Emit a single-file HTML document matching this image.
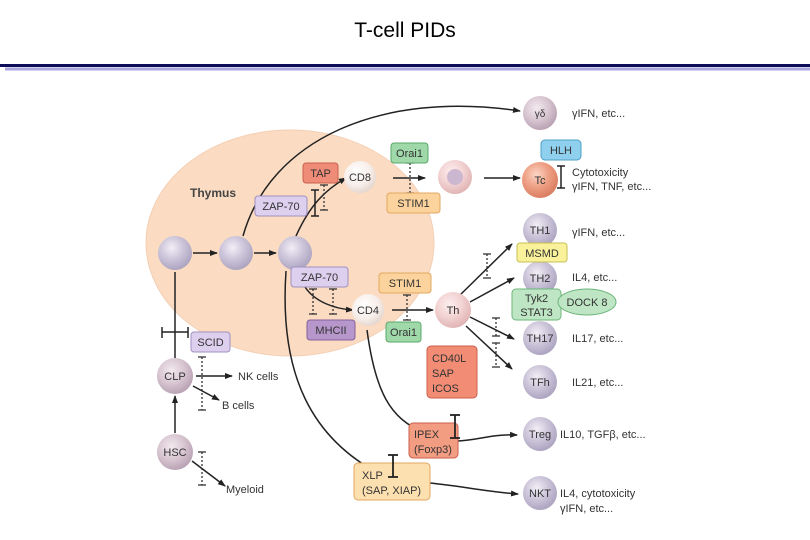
<!DOCTYPE html>
<html><head><meta charset="utf-8"><style>
html,body{margin:0;padding:0;background:#fff;}
svg{display:block;}
text{font-family:"Liberation Sans",sans-serif;}
</style></head><body>
<svg width="810" height="540" viewBox="0 0 810 540" xmlns="http://www.w3.org/2000/svg">
<defs>
<marker id="a" markerWidth="8" markerHeight="8" refX="7" refY="4" orient="auto" markerUnits="userSpaceOnUse"><path d="M0,1 L8,4 L0,7 z" fill="#222"/></marker>
<radialGradient id="lav" cx="0.4" cy="0.35" r="0.7"><stop offset="0" stop-color="#f2eef6"/><stop offset="0.45" stop-color="#cfc8dc"/><stop offset="1" stop-color="#a9a0bd"/></radialGradient>
<radialGradient id="mauve" cx="0.4" cy="0.35" r="0.7"><stop offset="0" stop-color="#f3e9ee"/><stop offset="0.5" stop-color="#d9c7d2"/><stop offset="1" stop-color="#b59eb0"/></radialGradient>
<radialGradient id="pink" cx="0.4" cy="0.35" r="0.7"><stop offset="0" stop-color="#fdeeee"/><stop offset="0.5" stop-color="#f3d3d3"/><stop offset="1" stop-color="#deb0b0"/></radialGradient>
<radialGradient id="wht" cx="0.4" cy="0.35" r="0.7"><stop offset="0" stop-color="#ffffff"/><stop offset="0.6" stop-color="#f7eeea"/><stop offset="1" stop-color="#e2d3cc"/></radialGradient>
<radialGradient id="org" cx="0.4" cy="0.35" r="0.7"><stop offset="0" stop-color="#fbd6c6"/><stop offset="0.5" stop-color="#ee9f84"/><stop offset="1" stop-color="#d7785c"/></radialGradient>
</defs>
<text x="405" y="37" font-size="21" text-anchor="middle" fill="#000">T-cell PIDs</text>
<rect x="0" y="64" width="810" height="3" fill="#0c0c5a"/>
<rect x="5" y="67.5" width="805" height="3" fill="#a9a6dc"/>

<ellipse cx="290" cy="243" rx="144" ry="113" fill="#fbdcc2" stroke="#f3cfb4"/>
<text x="190" y="197" font-size="12" font-weight="bold" fill="#444">Thymus</text>

<g stroke="#222" stroke-width="1.5" fill="none">
<path d="M243,236 C270,140 380,90 520,111" marker-end="url(#a)"/>
<path d="M296,236 C310,205 325,190 346,178" marker-end="url(#a)"/>
<line x1="193" y1="253" x2="217" y2="253" marker-end="url(#a)"/>
<line x1="254" y1="253" x2="276" y2="253" marker-end="url(#a)"/>
<line x1="393" y1="178" x2="425" y2="178" marker-end="url(#a)"/>
<line x1="484" y1="178" x2="520" y2="178" marker-end="url(#a)"/>
<path d="M305,287 C315,302 335,309 353,310" marker-end="url(#a)"/>
<line x1="392" y1="310" x2="433" y2="310" marker-end="url(#a)"/>
<path d="M286,271 C280,360 300,450 415,489"/>
<path d="M367,330 C375,390 390,420 424,432"/>
<path d="M458,441 C480,440 490,434 517,435" marker-end="url(#a)"/>
<path d="M430,483 C460,486 490,492 518,494" marker-end="url(#a)"/>
<line x1="458" y1="297" x2="512" y2="244" marker-end="url(#a)"/>
<line x1="470" y1="302" x2="514" y2="278" marker-end="url(#a)"/>
<line x1="470" y1="317" x2="514" y2="339" marker-end="url(#a)"/>
<line x1="466" y1="326" x2="512" y2="369" marker-end="url(#a)"/>
<line x1="175" y1="433" x2="175" y2="396" marker-end="url(#a)"/>
<line x1="175" y1="358" x2="175" y2="272"/>
<line x1="162" y1="332" x2="188" y2="332"/>
<line x1="162" y1="327" x2="162" y2="338"/>
<line x1="188" y1="327" x2="188" y2="338"/>
<line x1="196" y1="376" x2="232" y2="376" marker-end="url(#a)"/>
<line x1="193" y1="386" x2="219" y2="400" marker-end="url(#a)"/>
<line x1="192" y1="461" x2="225" y2="486" marker-end="url(#a)"/>
<line x1="315" y1="190" x2="315" y2="216"/><line x1="311" y1="190" x2="319" y2="190"/><line x1="311" y1="216" x2="319" y2="216"/>
<line x1="561" y1="166" x2="561" y2="188"/><line x1="557" y1="166" x2="565" y2="166"/><line x1="557" y1="188" x2="565" y2="188"/>
</g>
<g stroke="#333" stroke-width="1.3" fill="none" stroke-dasharray="2,2">
<line x1="324" y1="185" x2="324" y2="210"/><line x1="410" y1="163" x2="410" y2="193"/>
<line x1="313" y1="289" x2="313" y2="314"/><line x1="333" y1="289" x2="333" y2="314"/>
<line x1="407" y1="295" x2="407" y2="320"/>
<line x1="487" y1="254" x2="487" y2="278"/>
<line x1="496" y1="318" x2="496" y2="336"/><line x1="496" y1="343" x2="496" y2="367"/>
<line x1="202" y1="357" x2="202" y2="410"/><line x1="202" y1="452" x2="202" y2="485"/>
</g>
<g stroke="#333" stroke-width="1.3">
<line x1="320" y1="185" x2="328" y2="185"/><line x1="320" y1="210" x2="328" y2="210"/>
<line x1="406" y1="163" x2="414" y2="163"/><line x1="406" y1="193" x2="414" y2="193"/>
<line x1="309" y1="289" x2="317" y2="289"/><line x1="309" y1="314" x2="317" y2="314"/>
<line x1="329" y1="289" x2="337" y2="289"/><line x1="329" y1="314" x2="337" y2="314"/>
<line x1="403" y1="295" x2="411" y2="295"/><line x1="403" y1="320" x2="411" y2="320"/>
<line x1="483" y1="254" x2="491" y2="254"/><line x1="483" y1="278" x2="491" y2="278"/>
<line x1="492" y1="318" x2="500" y2="318"/><line x1="492" y1="336" x2="500" y2="336"/>
<line x1="492" y1="343" x2="500" y2="343"/><line x1="492" y1="367" x2="500" y2="367"/>
<line x1="198" y1="357" x2="206" y2="357"/><line x1="198" y1="410" x2="206" y2="410"/>
<line x1="198" y1="452" x2="206" y2="452"/><line x1="198" y1="485" x2="206" y2="485"/>
</g>

<g>
<circle cx="175" cy="253" r="17" fill="url(#lav)"/>
<circle cx="236" cy="253" r="17" fill="url(#lav)"/>
<circle cx="295" cy="253" r="17" fill="url(#lav)"/>
<circle cx="360" cy="177" r="16" fill="url(#wht)"/>
<circle cx="455" cy="177" r="17" fill="url(#pink)"/><circle cx="455" cy="177" r="8" fill="#cbb7d0"/>
<circle cx="540" cy="113" r="17" fill="url(#mauve)"/>
<circle cx="540" cy="180" r="18" fill="url(#org)"/>
<circle cx="540" cy="230" r="17" fill="url(#lav)"/>
<circle cx="540" cy="278" r="17" fill="url(#lav)"/>
<circle cx="540" cy="338" r="17" fill="url(#lav)"/>
<circle cx="540" cy="382" r="17" fill="url(#lav)"/>
<circle cx="540" cy="434" r="17" fill="url(#lav)"/>
<circle cx="540" cy="493" r="17" fill="url(#lav)"/>
<circle cx="453" cy="310" r="18" fill="url(#pink)"/>
<circle cx="368" cy="310" r="16" fill="url(#wht)"/>
<circle cx="175" cy="376" r="18" fill="url(#mauve)"/>
<circle cx="175" cy="452" r="18" fill="url(#mauve)"/>
</g>
<g font-size="11" fill="#333" text-anchor="middle">
<text x="360" y="181">CD8</text><text x="540" y="117" font-size="10">γδ</text>
<text x="540" y="184">Tc</text><text x="540" y="234">TH1</text><text x="540" y="282">TH2</text>
<text x="540" y="342">TH17</text><text x="540" y="386">TFh</text><text x="540" y="438">Treg</text>
<text x="540" y="497">NKT</text><text x="453" y="314">Th</text><text x="368" y="314">CD4</text>
<text x="175" y="380">CLP</text><text x="175" y="456">HSC</text>
</g>

<g font-size="11" fill="#333" text-anchor="middle">
<rect x="303" y="163" width="35" height="20" rx="3" fill="#ef8c77" stroke="#c9604c"/><text x="320.5" y="177">TAP</text>
<rect x="391" y="143" width="37" height="20" rx="3" fill="#9fd8a9" stroke="#5da86c"/><text x="409.5" y="157">Orai1</text>
<rect x="387" y="193" width="53" height="20" rx="3" fill="#fcd39c" stroke="#e2a760"/><text x="413.5" y="207">STIM1</text>
<rect x="255" y="196" width="52" height="20" rx="3" fill="#ddd0ee" stroke="#a08fc0"/><text x="281" y="210">ZAP-70</text>
<rect x="291" y="267" width="57" height="20" rx="3" fill="#ddd0ee" stroke="#a08fc0"/><text x="319.5" y="281">ZAP-70</text>
<rect x="307" y="320" width="48" height="20" rx="3" fill="#b696cb" stroke="#84619d"/><text x="331" y="334">MHCII</text>
<rect x="379" y="273" width="52" height="20" rx="3" fill="#fcd39c" stroke="#e2a760"/><text x="405" y="287">STIM1</text>
<rect x="386" y="322" width="35" height="20" rx="3" fill="#9fd8a9" stroke="#5da86c"/><text x="403.5" y="336">Orai1</text>
<rect x="541" y="140" width="40" height="20" rx="4" fill="#8fd0ef" stroke="#4e9fc6"/><text x="561" y="154">HLH</text>
<rect x="517" y="243" width="50" height="19" rx="3" fill="#f9f29a" stroke="#c7bf52"/><text x="542" y="257">MSMD</text>
<rect x="512" y="289" width="49" height="31" rx="4" fill="#bfe6c4" stroke="#6bb57a"/><text x="536.5" y="302">Tyk2</text><text x="536.5" y="316">STAT3</text>
<ellipse cx="587" cy="302" rx="29" ry="13" fill="#bfe6c4" stroke="#6bb57a"/><text x="587" y="306">DOCK 8</text>
<rect x="427" y="346" width="50" height="52" rx="4" fill="#f28c74" stroke="#c9604c"/>
<text x="432" y="362" text-anchor="start">CD40L</text><text x="432" y="377" text-anchor="start">SAP</text><text x="432" y="392" text-anchor="start">ICOS</text>
<rect x="409" y="423" width="49" height="35" rx="4" fill="#f29c82" stroke="#c9604c"/>
<text x="414" y="438" text-anchor="start">IPEX</text><text x="414" y="453" text-anchor="start">(Foxp3)</text>
<rect x="354" y="463" width="76" height="37" rx="4" fill="#fde0b0" stroke="#e2a760"/>
<text x="362" y="479" text-anchor="start">XLP</text><text x="362" y="494" text-anchor="start">(SAP, XIAP)</text>
<rect x="191" y="332" width="39" height="20" rx="3" fill="#ddd0ee" stroke="#a08fc0"/><text x="210.5" y="346">SCID</text>
</g>

<g stroke="#222" stroke-width="1.8" fill="none">
<line x1="455" y1="415" x2="455" y2="438"/><line x1="450" y1="415" x2="460" y2="415"/><line x1="450" y1="438" x2="460" y2="438"/>
<line x1="393" y1="455" x2="393" y2="477"/><line x1="388" y1="455" x2="398" y2="455"/><line x1="388" y1="477" x2="398" y2="477"/>
</g>

<g font-size="11" fill="#333">
<text x="572" y="117">γIFN, etc...</text>
<text x="572" y="176">Cytotoxicity</text><text x="572" y="190">γIFN, TNF, etc...</text>
<text x="572" y="236">γIFN, etc...</text>
<text x="572" y="281">IL4, etc...</text>
<text x="572" y="342">IL17, etc...</text>
<text x="572" y="386">IL21, etc...</text>
<text x="560" y="438">IL10, TGFβ, etc...</text>
<text x="560" y="497">IL4, cytotoxicity</text><text x="560" y="512">γIFN, etc...</text>
<text x="238" y="380">NK cells</text><text x="222" y="409">B cells</text><text x="226" y="493">Myeloid</text>
</g>
</svg>
</body></html>
